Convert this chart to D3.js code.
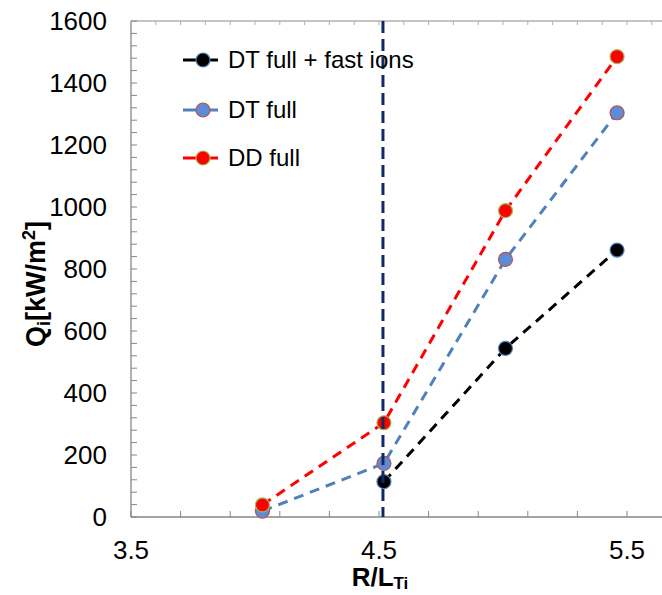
<!DOCTYPE html>
<html>
<head>
<meta charset="utf-8">
<script src="https://cdn.jsdelivr.net/npm/d3@7"></script>
<style>
  body { margin: 0; background: #fff; }
  svg { display: block; font-family: "Liberation Sans", Arial, sans-serif; }
</style>
</head>
<body>
<svg width="662" height="595"></svg>
<script>
// values
var rlt = [4.03, 4.52, 5.01, 5.46];
var dtFast = [null, 114, 544, 861];
var dtFull = [19, 173, 831, 1304];
var ddFull = [39, 304, 988, 1485];
var xLabels = [3.5, 4.5, 5.5];
var yLabels = [0, 200, 400, 600, 800, 1000, 1200, 1400, 1600];
var markLine = 4.516;

var series = [
  { name: "DT full + fast ions", vals: dtFast, line: "#000000", fill: "#000000", stroke: "#4f81bd" },
  { name: "DT full", vals: dtFull, line: "#4f81bd", fill: "#5b8dd6", stroke: "#c0504d" },
  { name: "DD full", vals: ddFull, line: "#ff0000", fill: "#ff0000", stroke: "#9bbb59" }
];

var svg = d3.select("svg");
var W = 662;
var x = d3.scaleLinear().domain([3.5, 5.5]).range([131, 627]);
var y = d3.scaleLinear().domain([0, 1600]).range([517, 21]);
var axisCol = "#868686";

// frame: left, bottom, top
svg.append("line").attr("x1", 131).attr("x2", 131).attr("y1", y(0)).attr("y2", y(1600))
  .attr("stroke", axisCol).attr("stroke-width", 1.3);
svg.append("line").attr("x1", 131).attr("x2", W).attr("y1", y(0)).attr("y2", y(0))
  .attr("stroke", axisCol).attr("stroke-width", 1.3);
svg.append("line").attr("x1", 131).attr("x2", W).attr("y1", y(1600)).attr("y2", y(1600))
  .attr("stroke", "#b0b0b0").attr("stroke-width", 1.3);

// minor ticks
var yTicks = d3.range(0, 1601, 40);
svg.append("g").selectAll("line").data(yTicks).enter().append("line")
  .attr("x1", 131).attr("x2", 137)
  .attr("y1", function(d) { return y(d); }).attr("y2", function(d) { return y(d); })
  .attr("stroke", axisCol);
var xTicks = d3.range(0, 12).map(function(i) { return 3.5 + i * 0.2; });
svg.append("g").selectAll("line").data(xTicks).enter().append("line")
  .attr("x1", function(d) { return x(d); }).attr("x2", function(d) { return x(d); })
  .attr("y1", y(0)).attr("y2", y(0) - 6)
  .attr("stroke", axisCol);
var topTicks = d3.range(1, 22).map(function(i) { return 3.5 + i * 0.1; });
svg.append("g").selectAll("line").data(topTicks).enter().append("line")
  .attr("x1", function(d) { return x(d); }).attr("x2", function(d) { return x(d); })
  .attr("y1", y(1600)).attr("y2", y(1600) + 4)
  .attr("stroke", "#b0b0b0");

// tick labels
svg.append("g").selectAll("text").data(yLabels).enter().append("text")
  .attr("x", 107).attr("y", function(d) { return y(d) + 9; })
  .attr("text-anchor", "end").attr("font-size", 26)
  .text(function(d) { return d; });
svg.append("g").selectAll("text").data(xLabels).enter().append("text")
  .attr("x", function(d) { return x(d); }).attr("y", 559)
  .attr("text-anchor", "middle").attr("font-size", 26)
  .text(function(d) { return d.toFixed(1); });

// axis titles
var xt = svg.append("text").attr("x", 380).attr("y", 586)
  .attr("text-anchor", "middle").attr("font-size", 26).attr("font-weight", "bold");
xt.append("tspan").text("R/L");
xt.append("tspan").attr("font-size", 17).attr("dy", 3).text("Ti");

var yt = svg.append("text").attr("transform", "translate(45,284) rotate(-90)")
  .attr("text-anchor", "middle").attr("font-size", 27).attr("font-weight", "bold");
yt.append("tspan").text("Q");
yt.append("tspan").attr("font-size", 18).attr("dy", 5).text("i");
yt.append("tspan").attr("dy", -5).text("[kW/m");
yt.append("tspan").attr("font-size", 18).attr("dy", -10).text("2");
yt.append("tspan").attr("dy", 10).text("]");

// series
var line = d3.line()
  .defined(function(d) { return d.v != null; })
  .x(function(d) { return x(d.x); })
  .y(function(d) { return y(d.v); });

series.forEach(function(s) {
  var pts = rlt.map(function(r, i) { return { x: r, v: s.vals[i] }; });
  svg.append("path").datum(pts)
    .attr("d", line)
    .attr("fill", "none").attr("stroke", s.line)
    .attr("stroke-width", 3).attr("stroke-dasharray", "10,7");
  svg.append("g").selectAll("circle")
    .data(pts.filter(function(d) { return d.v != null; }))
    .enter().append("circle")
    .attr("cx", function(d) { return x(d.x); })
    .attr("cy", function(d) { return y(d.v); })
    .attr("r", 7)
    .attr("fill", s.fill).attr("stroke", s.stroke).attr("stroke-width", 1.2);
});

// vertical marker line
svg.append("line")
  .attr("x1", x(markLine)).attr("x2", x(markLine))
  .attr("y1", y(1600)).attr("y2", y(0))
  .attr("stroke", "#0f2a66").attr("stroke-width", 3)
  .attr("stroke-dasharray", "12,6");

// legend
var legY = [60, 110, 158];
var leg = svg.append("g").selectAll("g").data(series).enter().append("g")
  .attr("transform", function(d, i) { return "translate(183," + legY[i] + ")"; });
leg.append("line").attr("x1", 0).attr("x2", 35).attr("y1", 0).attr("y2", 0)
  .attr("stroke", function(d) { return d.line; }).attr("stroke-width", 3);
leg.append("circle").attr("cx", 20).attr("cy", 0).attr("r", 7)
  .attr("fill", function(d) { return d.fill; })
  .attr("stroke", function(d) { return d.stroke; }).attr("stroke-width", 1.2);
leg.append("text").attr("x", 45).attr("y", 8).attr("font-size", 24)
  .text(function(d) { return d.name; });
</script>
</body>
</html>
